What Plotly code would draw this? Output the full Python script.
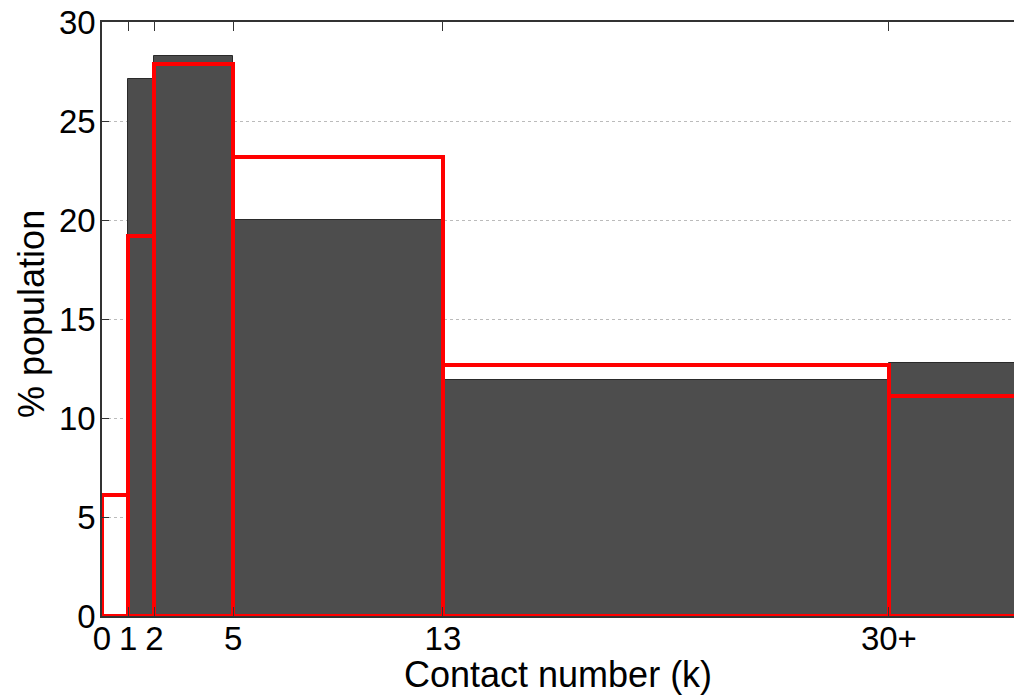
import plotly.graph_objects as go

# Bin edges of contact number k (last bin "30+" runs off the right of the plot)
bin_edges = [0, 1, 2, 5, 13, 30, 40]
observed_pct = [0.0, 27.1, 28.3, 20.0, 11.9, 12.8]   # dark grey histogram
model_pct = [6.1, 19.2, 27.9, 23.2, 12.7, 11.1]      # red outlined histogram
tick_vals = [0, 1, 2, 5, 13, 30]
tick_text = ["0", "1", "2", "5", "13", "30+"]
y_ticks = [0, 5, 10, 15, 20, 25, 30]

centers = [(a + b) / 2 for a, b in zip(bin_edges[:-1], bin_edges[1:])]
widths = [b - a for a, b in zip(bin_edges[:-1], bin_edges[1:])]

fig = go.Figure()
fig.add_trace(go.Bar(
    x=centers, y=observed_pct, width=widths,
    marker=dict(color="#4d4d4d", line=dict(color="#2a2a2a", width=1)),
    showlegend=False,
))
fig.add_trace(go.Bar(
    x=centers, y=model_pct, width=widths,
    marker=dict(color="rgba(0,0,0,0)", line=dict(color="#ff0000", width=4)),
    showlegend=False,
))

font_family = "Liberation Sans, Arial, Helvetica, sans-serif"
W, H = 1014, 700
L, R, T, B = 102, 0, 22, 84
plot_w, plot_h = W - L - R, H - T - B

fig.update_layout(
    width=W, height=H,
    margin=dict(l=L, r=R, t=T, b=B, autoexpand=False),
    barmode="overlay",
    bargap=0,
    plot_bgcolor="white",
    paper_bgcolor="white",
    font=dict(family=font_family, size=33, color="black"),
    xaxis=dict(
        range=[0, 34.77],
        automargin=False,
        tickmode="array", tickvals=tick_vals, ticktext=tick_text,
        ticks="inside", ticklen=9, tickcolor="#333",
        showline=True, linecolor="#333", linewidth=1.5, mirror="ticks",
        showgrid=False, zeroline=False,
        tickfont=dict(size=33),
        ticklabelstandoff=-7,
    ),
    yaxis=dict(
        range=[0, 30],
        automargin=False,
        tickmode="array", tickvals=y_ticks,
        ticks="inside", ticklen=7, tickcolor="#333",
        showline=True, linecolor="#333", linewidth=1.5,
        showgrid=True, gridcolor="#bbbbbb", griddash="dot", gridwidth=1,
        zeroline=False,
        tickfont=dict(size=33),
        ticklabelstandoff=-2,
    ),
    annotations=[
        dict(text="Contact number (k)", xref="paper", yref="paper",
             x=(558 - L) / plot_w, y=-(674 - (H - B)) / plot_h,
             xanchor="center", yanchor="middle", showarrow=False,
             font=dict(size=36)),
        dict(text="% population", xref="paper", yref="paper",
             x=-(L - 31) / plot_w, y=((H - B) - 314) / plot_h,
             xanchor="center", yanchor="middle", showarrow=False,
             textangle=-90, font=dict(size=36)),
    ],
)

fig.write_html(
    "out.html",
    config={"displayModeBar": False},
    post_script="document.body.style.margin='0';document.body.style.overflow='hidden';",
)
